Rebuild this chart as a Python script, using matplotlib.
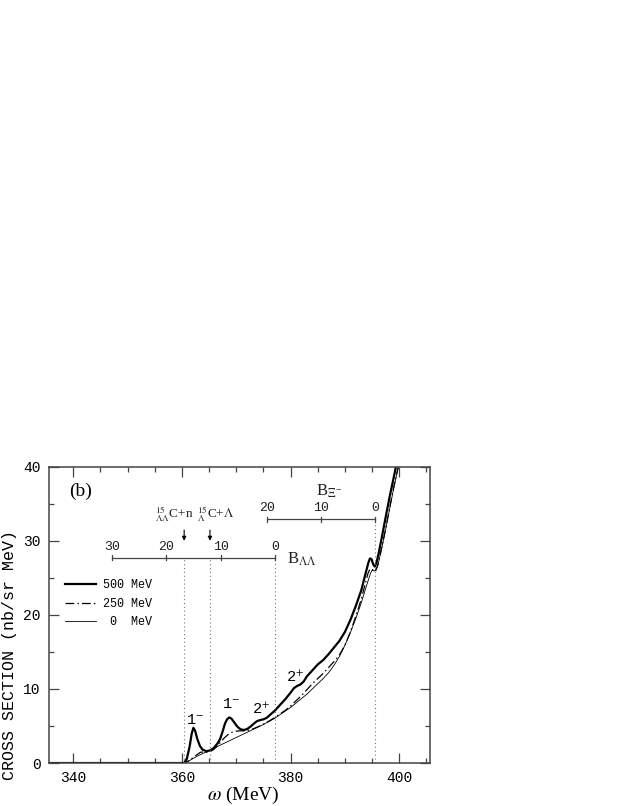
import numpy as np
import matplotlib
matplotlib.use('Agg')
import matplotlib.pyplot as plt
from matplotlib.ticker import MultipleLocator

plt.rcParams['mathtext.fontset'] = 'stix'

# curve samples (omega in MeV, cross section in nb/sr MeV)
w_500 = [335.5, 360.4, 360.9, 361.4, 361.8, 362.1, 362.4, 362.8, 363.3, 363.8, 364.5,
         365.2, 365.8, 366.5, 367.0, 367.5, 367.9, 368.3, 368.7, 369.1, 369.6, 370.2,
         370.8, 371.4, 372.0, 372.6, 373.2, 373.8, 374.4, 375.0, 375.6, 376.2, 377.0,
         378.0, 379.0, 380.0, 380.6, 381.2, 381.8, 382.4, 383.0, 384.0, 385.0, 386.0,
         387.0, 388.0, 389.0, 390.0, 391.0, 392.0, 393.0, 393.8, 394.3, 394.6, 394.9,
         395.2, 395.5, 395.8, 396.2, 396.8, 397.5, 398.3, 399.0, 399.8]
xs_500 = [0.0, 0.0, 0.6, 2.2, 4.0, 4.75, 4.4, 3.3, 2.3, 1.8, 1.6,
          1.7, 2.0, 2.6, 3.2, 4.3, 5.3, 5.9, 6.15, 6.0, 5.5, 4.9,
          4.55, 4.45, 4.6, 4.9, 5.3, 5.65, 5.8, 5.9, 6.1, 6.5, 7.0,
          7.8, 8.6, 9.5, 10.1, 10.4, 10.6, 11.0, 11.7, 12.5, 13.3, 13.9,
          14.7, 15.6, 16.5, 17.7, 19.3, 21.2, 23.3, 25.6, 27.0, 27.6, 27.5,
          26.8, 26.5, 27.0, 28.3, 30.5, 33.2, 36.2, 38.6, 41.5]

w_250 = [335.5, 360.4, 361.2, 362.0, 362.7, 363.4, 364.0, 364.6, 365.2, 365.8, 366.5,
         367.2, 367.8, 368.5, 369.2, 370.0, 370.8, 371.6, 372.4, 373.2, 374.0, 375.0,
         376.0, 377.0, 378.0, 379.0, 380.0, 381.0, 382.0, 383.0, 384.0, 385.0, 386.0,
         387.0, 388.0, 389.0, 390.0, 391.0, 392.0, 393.0, 393.7, 394.2, 394.6, 395.0,
         395.3, 395.6, 396.0, 396.5, 397.2, 398.0, 398.8, 399.5, 400.3]
xs_250 = [0.0, 0.0, 0.3, 0.7, 1.1, 1.45, 1.5, 1.45, 1.55, 1.8, 2.3,
          2.9, 3.4, 3.85, 4.15, 4.3, 4.35, 4.35, 4.45, 4.65, 4.9, 5.25,
          5.65, 6.1, 6.6, 7.1, 7.7, 8.4, 9.1, 9.9, 10.7, 11.4, 12.1,
          12.9, 13.7, 14.6, 15.9, 17.7, 19.8, 22.1, 24.1, 25.5, 26.2, 26.1,
          25.8, 25.9, 26.6, 28.2, 30.6, 33.6, 36.6, 39.0, 41.5]

w_0 = [335.5, 360.4, 361.0, 362.0, 363.0, 364.0, 365.0, 366.0, 367.0, 368.0, 369.0,
       370.0, 371.0, 372.0, 373.0, 374.0, 375.0, 376.0, 377.0, 378.0, 379.0, 380.0,
       381.0, 382.0, 383.0, 384.0, 385.0, 386.0, 387.0, 388.0, 389.0, 390.0, 391.0,
       392.0, 393.0, 394.0, 394.7, 395.1, 395.4, 395.7, 396.1, 396.6, 397.3, 398.1,
       398.9, 399.7, 400.5]
xs_0 = [0.0, 0.0, 0.15, 0.6, 1.0, 1.35, 1.7, 2.05, 2.4, 2.75, 3.1,
        3.45, 3.8, 4.15, 4.5, 4.85, 5.2, 5.6, 6.0, 6.5, 7.0, 7.5,
        8.1, 8.7, 9.3, 10.0, 10.7, 11.4, 12.2, 13.2, 14.4, 15.9, 17.6,
        19.5, 21.6, 24.0, 25.6, 26.1, 25.9, 26.0, 26.8, 28.4, 30.8, 33.8,
        36.8, 39.5, 42.0]

# thresholds (omega of the dotted guide lines)
thr_lam = [360.4, 365.15, 377.1]
thr_xi = 395.6

# binding energy scales
b_ll_ticks = [30, 20, 10, 0]
b_xi_ticks = [20, 10, 0]
b_ll_y = 27.7
b_xi_y = 32.9

peaks = [(362.4, 5.8, r'1$^{-}$'), (369.1, 7.9, r'1$^{-}$'),
         (374.5, 7.2, r'2$^{+}$'), (380.8, 11.5, r'2$^{+}$')]

mono = 'Liberation Mono'
serif = 'Liberation Serif'
gray = '#444444'

fig = plt.figure(figsize=(6.23, 8.06), dpi=100)
ax = fig.add_axes([0.0787, 0.0533, 0.6115, 0.3679])

ax.plot(w_500, xs_500, color='black', lw=1.6, label='500 MeV')
ax.plot(w_250, xs_250, color='black', lw=0.9, ls=(0, (7, 2.5, 1.2, 2.5)), label='250 MeV')
ax.plot(w_0, xs_0, color='black', lw=0.6, label=' 0  MeV')

# dotted guides
for w in thr_lam:
    ax.plot([w, w], [0, b_ll_y], color='#777777', lw=0.8, ls=(0, (1, 2.5)))
ax.plot([thr_xi, thr_xi], [0, b_xi_y], color='#777777', lw=0.8, ls=(0, (1, 2.5)))

# B_LL scale: omega = 377.1 - B
w0_ll = thr_lam[2]
ax.plot([w0_ll - max(b_ll_ticks), w0_ll], [b_ll_y, b_ll_y], color=gray, lw=0.9)
for b in b_ll_ticks:
    ax.plot([w0_ll - b, w0_ll - b], [b_ll_y - 0.35, b_ll_y + 0.35], color=gray, lw=0.9)
    ax.text(w0_ll - b, b_ll_y + 1.4, str(b), ha='center', va='center',
            family=mono, fontsize=9.5, color='#222222')
ax.text(379.4, b_ll_y - 0.2, r'B$_{\Lambda\Lambda}$', ha='left', va='center',
        family=serif, fontsize=12, color='#222222')

# B_Xi scale: omega = 395.6 - B
ax.plot([thr_xi - max(b_xi_ticks), thr_xi], [b_xi_y, b_xi_y], color=gray, lw=0.9)
for b in b_xi_ticks:
    ax.plot([thr_xi - b, thr_xi - b], [b_xi_y - 0.35, b_xi_y + 0.35], color=gray, lw=0.9)
    ax.text(thr_xi - b, b_xi_y + 1.5, str(b), ha='center', va='center',
            family=mono, fontsize=9.5, color='#222222')
ax.text(384.7, 36.6, r'B$_{\Xi^{-}}$', ha='left', va='center',
        family=serif, fontsize=12, color='#222222')

# threshold arrows
for w in thr_lam[:2]:
    ax.annotate('', xy=(w, 29.6), xytext=(w, 31.8),
                arrowprops=dict(arrowstyle='-|>', color='black', lw=0.8,
                                mutation_scale=6))
ax.text(358.5, 33.5, r'${}^{15}_{\Lambda\Lambda}$C+n', ha='center', va='center',
        family=serif, fontsize=9.5, color='#222222')
ax.text(366.3, 33.5, r'${}^{15}_{\Lambda}$C+$\Lambda$', ha='center', va='center',
        family=serif, fontsize=9.5, color='#222222')

for x, y, s in peaks:
    ax.text(x, y, s, ha='center', va='center', family=mono, fontsize=11)

ax.text(341.3, 36.6, '(b)', ha='center', va='center', family=serif, fontsize=14)

ax.legend(loc='upper left', bbox_to_anchor=(0.03, 0.635), frameon=False,
          prop={'family': mono, 'size': 8.5}, handlelength=2.6, handletextpad=0.6,
          labelspacing=0.55, borderaxespad=0)

ax.set_xlim(335.53, 405.65)
ax.set_ylim(0, 40)
ax.xaxis.set_major_locator(MultipleLocator(20))
ax.xaxis.set_minor_locator(MultipleLocator(5))
ax.yaxis.set_major_locator(MultipleLocator(10))
ax.yaxis.set_minor_locator(MultipleLocator(5))
ax.tick_params(which='both', direction='in', top=True, right=True, color=gray,
               width=0.9)
ax.tick_params(which='major', length=7, labelsize=10.5, pad=6)
ax.tick_params(which='minor', length=3.5)
for lab in ax.get_xticklabels() + ax.get_yticklabels():
    lab.set_family(mono)
for s in ax.spines.values():
    s.set_color(gray)
    s.set_linewidth(1.1)

ax.set_xlabel(r'$\omega$ (MeV)', family=serif, fontsize=14)
ax.xaxis.set_label_coords(0.51, -0.072)
ax.set_ylabel('CROSS SECTION (nb/sr MeV)', family=mono, fontsize=12)
ax.yaxis.set_label_coords(-0.083, 0.365)

fig.savefig('out.png', dpi=100)
